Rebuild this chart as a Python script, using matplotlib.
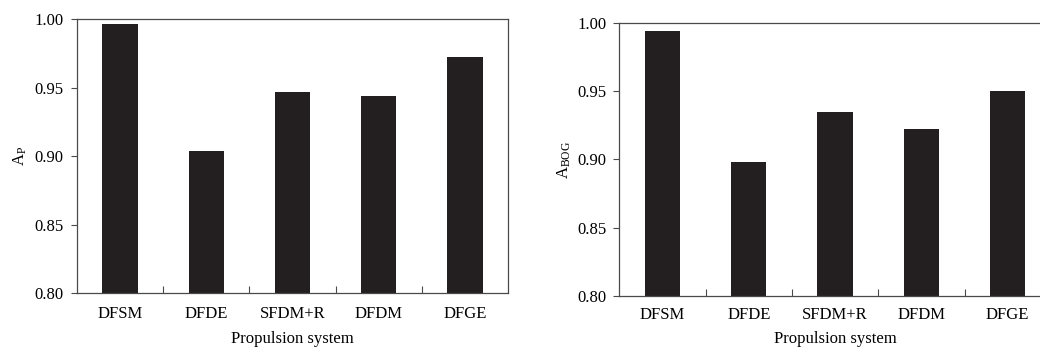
import matplotlib
matplotlib.use("Agg")
import matplotlib.pyplot as plt
import numpy as np
from matplotlib.ticker import FixedLocator, NullFormatter

plt.rcParams['font.family'] = ['Liberation Serif', 'DejaVu Serif']
plt.rcParams['mathtext.fontset'] = 'custom'
plt.rcParams['mathtext.rm'] = 'Liberation Serif'
plt.rcParams['mathtext.it'] = 'Liberation Serif'

categories = ["DFSM", "DFDE", "SFDM+R", "DFDM", "DFGE"]
a_p = [0.996, 0.904, 0.947, 0.944, 0.972]
a_bog = [0.994, 0.898, 0.935, 0.922, 0.950]
yticks = [0.80, 0.85, 0.90, 0.95, 1.00]
ylabels = [r"$\mathregular{A_{P}}$", r"$\mathregular{A_{BOG}}$"]
xlabel = "Propulsion system"

bar_color = "#231f20"
spine_color = "#4a4a4a"
fs = 12

fig = plt.figure(figsize=(10.4, 3.47), dpi=100)
ax1 = fig.add_axes([0.0740, 0.1556, 0.4145, 0.7896])
ax2 = fig.add_axes([0.5955, 0.1478, 0.4149, 0.7859])

for ax, vals, yl, lpad, tpad, xlpad in [(ax1, a_p, ylabels[0], 4, 9, 7),
                                         (ax2, a_bog, ylabels[1], 3, 8, 6)]:
    x = np.arange(len(categories))
    ax.bar(x, vals, width=0.41, color=bar_color, edgecolor='none', zorder=2)
    ax.set_xlim(-0.5, len(categories) - 0.5)
    ax.set_ylim(0.80, 1.00)
    ax.set_yticks(yticks)
    ax.set_yticklabels([f"{v:.2f}" for v in yticks], fontsize=fs)
    ax.set_xticks(x)
    ax.set_xticklabels(categories, fontsize=fs)
    ax.tick_params(axis='x', which='major', length=0, pad=tpad)
    ax.xaxis.set_minor_locator(FixedLocator(np.arange(0.5, len(categories) - 1, 1.0)))
    ax.xaxis.set_minor_formatter(NullFormatter())
    ax.tick_params(axis='x', which='minor', direction='in', length=5, width=0.8, color=spine_color)
    ax.tick_params(axis='y', direction='out', length=4.5, width=0.8, color=spine_color, pad=5)
    for s in ax.spines.values():
        s.set_color(spine_color)
        s.set_linewidth(0.9)
    ax.set_xlabel(xlabel, fontsize=fs, labelpad=xlpad)
    ax.set_ylabel(yl, fontsize=fs, labelpad=lpad)

fig.savefig("out.png", dpi=100)
